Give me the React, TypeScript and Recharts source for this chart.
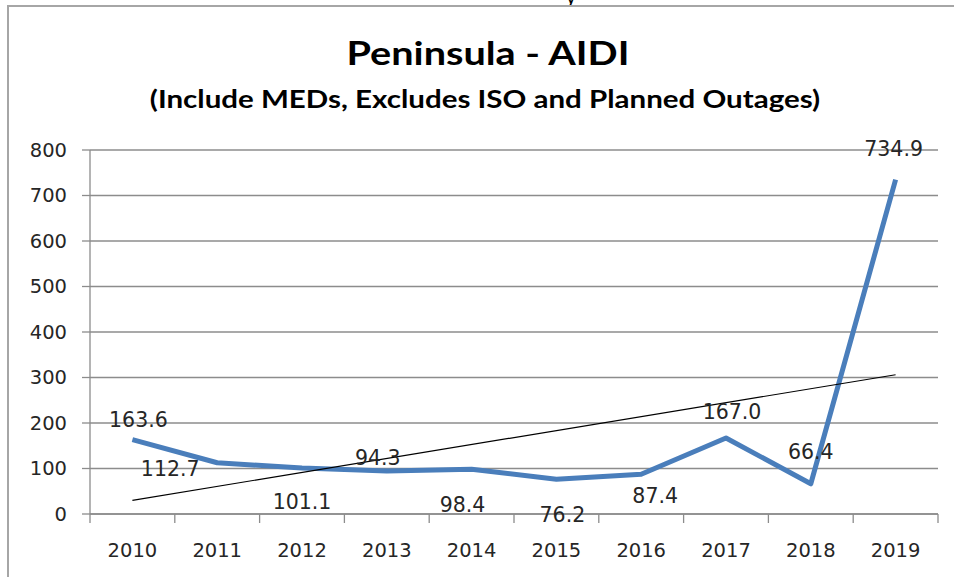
import React from "react";
import { LineChart, Line, XAxis, YAxis, CartesianGrid, LabelList } from "recharts";

// Peninsula AIDI by year (incl. MEDs, excl. ISO and planned outages)
const years = ["2010", "2011", "2012", "2013", "2014", "2015", "2016", "2017", "2018", "2019"];
const aidi = [163.6, 112.7, 101.1, 94.3, 98.4, 76.2, 87.4, 167.0, 66.4, 734.9];
// linear trendline, read at its two ends
const trend = [30, null, null, null, null, null, null, null, null, 306];
const yTicks = [0, 100, 200, 300, 400, 500, 600, 700, 800];

// where Excel put each data label, relative to its point (px)
const labelOffsets = [
  [6, -20], [-47, 6], [0, 34], [-9, -13], [-9, 36],
  [6, 36], [14, 22], [6, -26], [0, -32], [-2, -31],
];

const data = years.map((year, i) => ({ idx: i, year, aidi: aidi[i], trend: trend[i] }));
const xTicks = years.flatMap((_, i) => [i - 0.5, i]).concat(years.length - 0.5);

const GRID = "#8c8c8c";
const TEXT = "#262626";
const FONT = "'DejaVu Sans', Verdana, sans-serif";

const XTick = (props: any) => {
  const { x, y, payload } = props;
  const v = payload.value;
  if (!Number.isInteger(v)) {
    return <line x1={x} x2={x} y1={y} y2={y + 9} stroke={GRID} strokeWidth={1.3} />;
  }
  return (
    <text x={x} y={y + 36} textAnchor="middle" dominantBaseline="central"
      fontSize={19.5} fontFamily={FONT} fill={TEXT}>
      {years[v]}
    </text>
  );
};

const PointLabel = (props: any) => {
  const { x, y, index, value } = props;
  const [dx, dy] = labelOffsets[index] || [0, -20];
  return (
    <text x={x + dx} y={y + dy} textAnchor="middle" dominantBaseline="central"
      fontSize={20.5} fontFamily={FONT} fill={TEXT}>
      {Number(value).toFixed(1)}
    </text>
  );
};

export default function App() {
  return (
    <div style={{ position: "absolute", left: 0, top: 0, width: 954, height: 577, background: "#fff", overflow: "hidden" }}>
      <div style={{ position: "absolute", left: 566, top: -17, fontFamily: "Calibri, Carlito, Lato, sans-serif", fontSize: 22, color: "#000" }}>y</div>
      <div style={{ position: "absolute", left: 7, top: 5, width: 947, height: 572, borderTop: "2px solid #a6a6a6", borderLeft: "2px solid #a6a6a6", background: "#fff" }} />
      <div style={{ position: "absolute", left: 488, top: 32, transform: "translateX(-50%) scaleX(1.2)", whiteSpace: "nowrap",
        fontFamily: "Lato, sans-serif", fontWeight: 700, fontSize: 33, lineHeight: "40px", color: "#000" }}>
        Peninsula - AIDI
      </div>
      <div style={{ position: "absolute", left: 485, top: 83, transform: "translateX(-50%) scaleX(1.18)", whiteSpace: "nowrap",
        fontFamily: "Lato, sans-serif", fontWeight: 700, fontSize: 25, lineHeight: "30px", color: "#000" }}>
        (Include MEDs, Excludes ISO and Planned Outages)
      </div>
      <div style={{ position: "absolute", left: 0, top: 0 }}>
        <LineChart width={954} height={577} data={data} margin={{ top: 150, right: 16, bottom: 23, left: 30 }}>
          <CartesianGrid vertical={false} stroke={GRID} strokeWidth={1.3} />
          <XAxis dataKey="idx" type="number" domain={[-0.5, 9.5]} ticks={xTicks} interval={0}
            tick={<XTick />} tickLine={false} tickSize={0} tickMargin={0} height={40}
            axisLine={{ stroke: GRID, strokeWidth: 1.3 }} />
          <YAxis domain={[0, 800]} ticks={yTicks} interval={0} width={60} tickSize={8} tickMargin={15}
            tick={{ fontSize: 19.5, fontFamily: FONT, fill: TEXT }}
            tickLine={{ stroke: GRID, strokeWidth: 1.3 }} axisLine={{ stroke: GRID, strokeWidth: 1.3 }} />
          <Line dataKey="aidi" type="linear" stroke="#4a7ebb" strokeWidth={5} dot={false}
            isAnimationActive={false} strokeLinejoin="round">
            <LabelList dataKey="aidi" content={<PointLabel />} />
          </Line>
          <Line dataKey="trend" type="linear" stroke="#000" strokeWidth={1.2} dot={false}
            connectNulls isAnimationActive={false} />
        </LineChart>
      </div>
    </div>
  );
}
